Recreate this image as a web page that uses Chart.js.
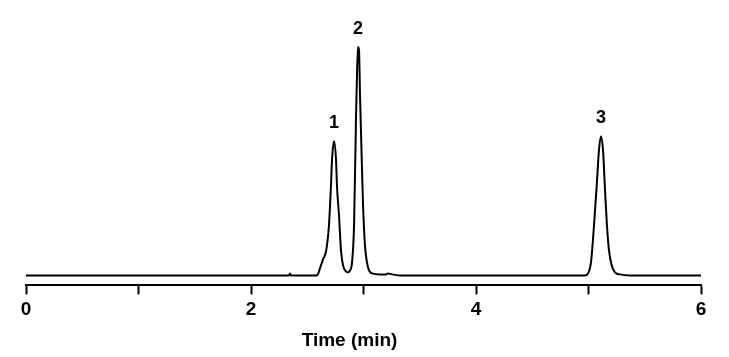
<!DOCTYPE html>
<html>
<head>
<meta charset="utf-8">
<script src="https://cdn.jsdelivr.net/npm/chart.js@4/dist/chart.umd.min.js"></script>
<style>
  html, body { margin: 0; padding: 0; background: #fff; }
  #wrap { width: 729px; height: 357px; position: relative; }
</style>
</head>
<body>
<div id="wrap"><canvas id="c" width="729" height="357"></canvas></div>
<script>
// Chromatogram trace (time in min, detector signal in arbitrary units)
const times = [0.000, 2.338, 2.347, 2.356, 2.587, 2.613, 2.640, 2.667, 2.693, 2.711, 2.720, 2.738,
  2.756, 2.764, 2.782, 2.800, 2.818, 2.844, 2.862, 2.880, 2.898, 2.916, 2.933, 2.942, 2.951, 2.960,
  2.969, 2.987, 2.996, 3.013, 3.031, 3.049, 3.076, 3.147, 3.200, 3.218, 3.253, 3.324,
  4.969, 4.996, 5.022, 5.049, 5.076, 5.093, 5.111, 5.129, 5.147, 5.164, 5.182, 5.209, 5.236,
  5.280, 5.369, 6.000];
const signal = [0, 0, 2, 0, 0, 7, 16, 24, 50, 90, 115, 134,
  115, 90, 60, 25, 10, 4, 3, 5, 13, 50, 155, 200, 228, 225,
  180, 105, 70, 30, 13, 5, 2, 1, 1, 2, 1, 0,
  0, 2, 13, 50, 95, 125, 139, 125, 85, 50, 25, 9, 3,
  1, 0, 0];

// Peak annotations
const peakLabels = ['1', '2', '3'];
const peakTimes = [2.738, 2.951, 5.111];
const peakHeights = [134, 228, 139];

// Axis
const xTickValues = [0, 1, 2, 3, 4, 5, 6];
const xLabeledTicks = [0, 2, 4, 6];
const xTitle = 'Time (min)';

const points = times.map((t, i) => ({ x: t, y: signal[i] }));

const FONT = '"Liberation Sans", Arial, sans-serif';

const annotationPlugin = {
  id: 'peakLabels',
  afterDraw(chart) {
    const { ctx, scales } = chart;
    ctx.save();
    ctx.fillStyle = '#000';
    ctx.font = 'bold 18px ' + FONT;
    ctx.textAlign = 'center';
    ctx.textBaseline = 'middle';
    peakLabels.forEach((lab, i) => {
      const px = scales.x.getPixelForValue(peakTimes[i]);
      const py = scales.y.getPixelForValue(peakHeights[i]);
      ctx.fillText(lab, px, py - 18);
    });
    // axis title, drawn slightly left of the axis centre as in the original
    const t = scales.x._titleY || null;
    ctx.font = 'bold 19px ' + FONT;
    ctx.textBaseline = 'bottom';
    const cx = (scales.x.left + scales.x.right) / 2 - 14;
    ctx.fillText(xTitle, cx, scales.x.bottom);
    ctx.restore();
  }
};

new Chart(document.getElementById('c'), {
  type: 'line',
  data: {
    datasets: [{
      data: points,
      borderColor: '#000',
      borderWidth: 2,
      pointRadius: 0,
      fill: false,
      cubicInterpolationMode: 'monotone'
    }]
  },
  options: {
    responsive: false,
    animation: false,
    events: [],
    layout: { padding: { left: 26, right: 28, top: 20, bottom: 7 } },
    plugins: { legend: { display: false }, tooltip: { enabled: false } },
    scales: {
      x: {
        type: 'linear',
        min: 0,
        max: 6,
        afterBuildTicks(scale) {
          scale.ticks = xTickValues.map(v => ({ value: v }));
        },
        grid: {
          drawOnChartArea: false,
          drawTicks: true,
          tickLength: 9,
          tickWidth: 2,
          tickColor: '#000'
        },
        border: { display: true, color: '#000', width: 2 },
        ticks: {
          color: '#000',
          padding: 4,
          maxRotation: 0,
          autoSkip: false,
          font: { family: FONT, size: 19, weight: 'bold' },
          callback: (v) => xLabeledTicks.includes(v) ? String(v) : ''
        },
        title: {
          display: true,
          text: xTitle,
          color: 'rgba(0,0,0,0)',
          padding: { top: 2, bottom: 0 },
          font: { family: FONT, size: 19, weight: 'bold' }
        }
      },
      y: {
        display: false,
        min: -10,
        max: 255
      }
    }
  },
  plugins: [annotationPlugin]
});
</script>
</body>
</html>
